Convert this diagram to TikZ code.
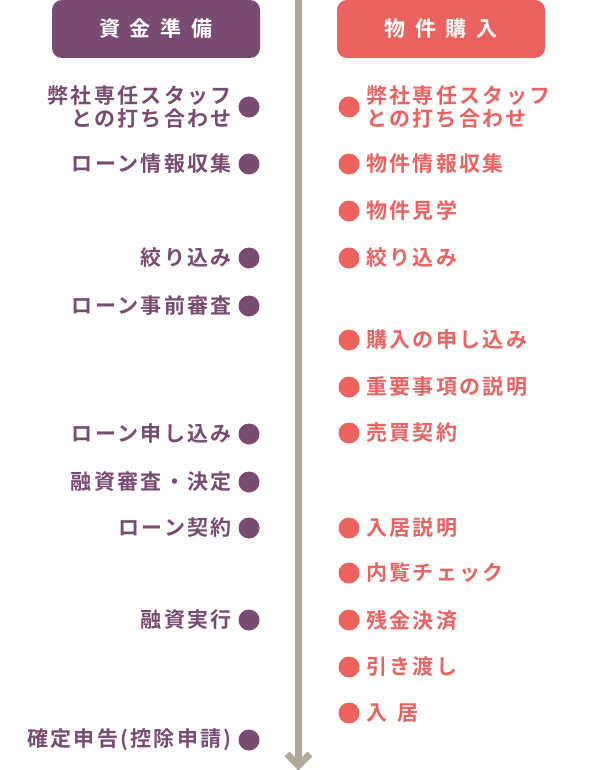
\documentclass[tikz,border=0pt]{standalone}
\usepackage{fontspec}
\setmainfont{Noto Sans CJK JP}[BoldFont={Noto Sans CJK JP Bold}]
\newfontfamily\jpitem{Noto Sans CJK JP Bold}[LetterSpace=11]
\newfontfamily\jphead{Noto Sans CJK JP Bold}
\definecolor{purp}{HTML}{7A4B72}
\definecolor{coral}{HTML}{EC625F}
\definecolor{shaft}{HTML}{B0A898}
\begin{document}
\begin{tikzpicture}[x=1pt,y=-1pt,
  hdrbox/.style={rounded corners=10pt,minimum width=208pt,minimum height=58pt,inner sep=0pt,text=white,font=\jphead\fontsize{21}{22}\selectfont},
  dotbase/.style={circle,minimum size=21pt,inner sep=0pt},
  dotL/.style={dotbase,fill=purp},
  dotR/.style={dotbase,fill=coral},
  txtL/.style={anchor=east,inner sep=0pt,text=purp,align=right,font=\jpitem\fontsize{21}{23}\selectfont},
  txtR/.style={anchor=west,inner sep=0pt,text=coral,align=left,font=\jpitem\fontsize{21}{23}\selectfont},
  flow/.style={draw=shaft,line width=7pt}
]
\useasboundingbox (0,0) rectangle (600,770);
\fill[white] (0,0) rectangle (600,770);

% vertical arrow
\coordinate (top) at (298.5,0);
\coordinate (bot) at (298.5,762);
\draw[flow] (top) -- (bot);
\coordinate (chl) at (287,754);
\coordinate (chm) at (298.5,765.5);
\coordinate (chr) at (310,754);
\draw[flow,line join=miter] (chl) -- (chm) -- (chr);

% headers
\node[hdrbox,fill=purp] (hL) at (156,29) {\raisebox{-2pt}{資\hspace{10pt}金\hspace{10pt}準\hspace{10pt}備}};
\node[hdrbox,fill=coral] (hR) at (441,29) {\raisebox{-2pt}{物\hspace{10pt}件\hspace{10pt}購\hspace{10pt}入}};

% left column
\def\lx{249}
\def\ltx{232}
\node[dotL] (dl1) at (\lx,107) {};
\node[txtL] (tl1) at (\ltx,107) {弊社専任スタッフ\\との打ち合わせ};
\node[dotL] (dl2) at (\lx,164) {};
\node[txtL] (tl2) at (\ltx,164) {ローン情報収集};
\node[dotL] (dl3) at (\lx,258) {};
\node[txtL] (tl3) at (\ltx,258) {絞り込み};
\node[dotL] (dl4) at (\lx,306) {};
\node[txtL] (tl4) at (\ltx,306) {ローン事前審査};
\node[dotL] (dl5) at (\lx,434) {};
\node[txtL] (tl5) at (\ltx,434) {ローン申し込み};
\node[dotL] (dl6) at (\lx,482) {};
\node[txtL] (tl6) at (\ltx,482) {融資審査・決定};
\node[dotL] (dl7) at (\lx,528) {};
\node[txtL] (tl7) at (\ltx,528) {ローン契約};
\node[dotL] (dl8) at (\lx,620) {};
\node[txtL] (tl8) at (\ltx,620) {融資実行};
\node[dotL] (dl9) at (\lx,740) {};
\node[txtL] (tl9) at (\ltx,740) {確定申告(控除申請)};

% right column
\def\rx{349}
\def\rtx{366}
\node[dotR] (dr1) at (\rx,107) {};
\node[txtR] (tr1) at (\rtx,107) {弊社専任スタッフ\\との打ち合わせ};
\node[dotR] (dr2) at (\rx,164) {};
\node[txtR] (tr2) at (\rtx,164) {物件情報収集};
\node[dotR] (dr3) at (\rx,211) {};
\node[txtR] (tr3) at (\rtx,211) {物件見学};
\node[dotR] (dr4) at (\rx,258) {};
\node[txtR] (tr4) at (\rtx,258) {絞り込み};
\node[dotR] (dr5) at (\rx,340) {};
\node[txtR] (tr5) at (\rtx,340) {購入の申し込み};
\node[dotR] (dr6) at (\rx,387) {};
\node[txtR] (tr6) at (\rtx,387) {重要事項の説明};
\node[dotR] (dr7) at (\rx,433) {};
\node[txtR] (tr7) at (\rtx,433) {売買契約};
\node[dotR] (dr8) at (\rx,528) {};
\node[txtR] (tr8) at (\rtx,528) {入居説明};
\node[dotR] (dr9) at (\rx,573) {};
\node[txtR] (tr9) at (\rtx,573) {内覧チェック};
\node[dotR] (dr10) at (\rx,620) {};
\node[txtR] (tr10) at (\rtx,620) {残金決済};
\node[dotR] (dr11) at (\rx,667) {};
\node[txtR] (tr11) at (\rtx,667) {引き渡し};
\node[dotR] (dr12) at (\rx,713) {};
\node[txtR] (tr12) at (\rtx,713) {入\hspace{10pt}居};
\end{tikzpicture}
\end{document}
